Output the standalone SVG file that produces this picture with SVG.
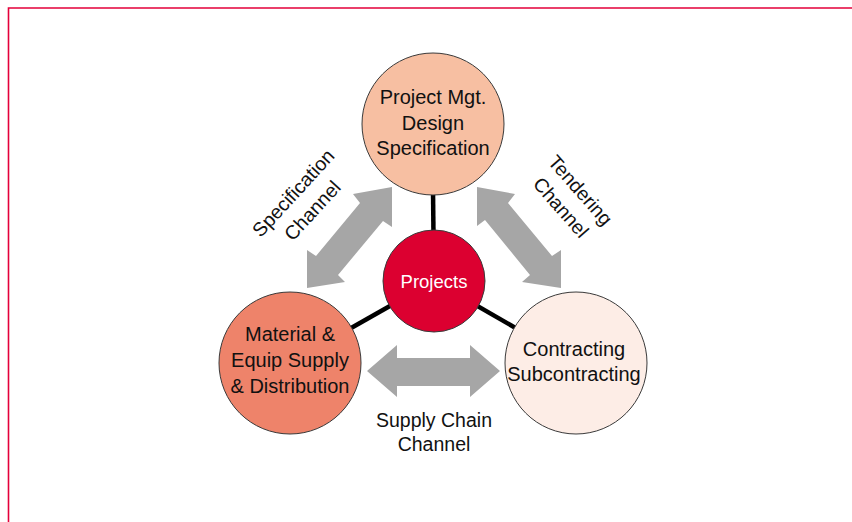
<svg xmlns="http://www.w3.org/2000/svg" width="852" height="522" viewBox="0 0 852 522">
  <style>
    .frame { fill: none; stroke: #E4003A; stroke-width: 1.6; }
    .link { stroke: #000; stroke-width: 4.5; stroke-linecap: butt; }
    .channel { fill: #A6A6A6; }
    .node { stroke: #3a3a3a; stroke-width: 1; }
    .lbl { font-family: "Liberation Sans", Arial, sans-serif; font-size: 20px; fill: #111; text-anchor: middle; }
    .ch { font-size: 19.5px; }
    .hub { font-family: "Liberation Sans", Arial, sans-serif; font-size: 18.5px; fill: #fff; text-anchor: middle; }
  </style>

  <!-- page frame: top and left rules -->
  <path class="frame" d="M8.5 522 V8 H852"/>

  <!-- connectors: spokes from the hub and the three channel arrows -->
  <g id="connectors">
    <line class="link" x1="434" y1="281" x2="433" y2="190"/>
    <line class="link" x1="434" y1="281" x2="300" y2="357"/>
    <line class="link" x1="434" y1="281" x2="566" y2="357"/>

    <polygon id="spec-channel" class="channel"
      points="392,187 392,227 383,221 338,275 345,282 307,288 307,250 316,256 360,203 353,194"/>
    <polygon id="tender-channel" class="channel"
      points="477,187 515,194 508,203 552,256 561,250 561,288 522,282 530,275 485,220 477,226"/>
    <polygon id="supply-channel" class="channel"
      points="367,371 397,345 397,358 470,358 470,345 500,371 470,397 470,386 397,386 397,397"/>
  </g>

  <!-- channel labels -->
  <g id="spec-channel-label" transform="translate(303,202) rotate(-47.5)">
    <text class="lbl ch" x="0" y="-6.5">Specification</text>
    <text class="lbl ch" x="0" y="19.5">Channel</text>
  </g>
  <g id="tender-channel-label" transform="translate(570.5,199) rotate(48.7)">
    <text class="lbl ch" x="0" y="-6.5">Tendering</text>
    <text class="lbl ch" x="0" y="19.5">Channel</text>
  </g>
  <g id="supply-channel-label">
    <text class="lbl ch" x="434" y="427">Supply Chain</text>
    <text class="lbl ch" x="434" y="451">Channel</text>
  </g>

  <!-- nodes -->
  <g id="node-design">
    <circle class="node" cx="433" cy="124" r="71" fill="#F7BFA2"/>
    <text class="lbl" x="433" y="104">Project Mgt.</text>
    <text class="lbl" x="433" y="129.5">Design</text>
    <text class="lbl" x="433" y="155">Specification</text>
  </g>

  <g id="node-supply">
    <circle class="node" cx="290" cy="363" r="71" fill="#EE836A"/>
    <text class="lbl" x="290" y="341">Material &amp;</text>
    <text class="lbl" x="290" y="367">Equip Supply</text>
    <text class="lbl" x="290" y="393">&amp; Distribution</text>
  </g>

  <g id="node-contracting">
    <circle class="node" cx="576" cy="363" r="71" fill="#FDEDE6"/>
    <text class="lbl" x="574" y="356">Contracting</text>
    <text class="lbl" x="574" y="381">Subcontracting</text>
  </g>

  <g id="node-projects">
    <circle class="node" cx="434" cy="281" r="51" fill="#DC0030"/>
    <text class="hub" x="434" y="288">Projects</text>
  </g>
</svg>
